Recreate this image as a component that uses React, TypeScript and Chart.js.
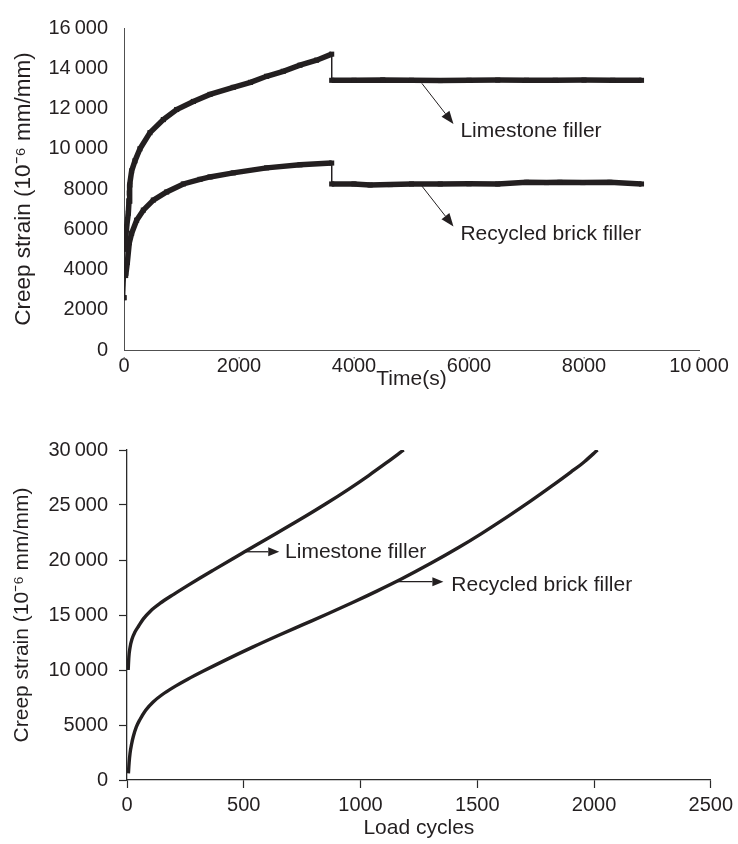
import React, { useEffect, useRef } from 'react';
import { Chart, registerables } from 'chart.js';

Chart.register(...registerables);

const INK = '#231f20';
const AXIS_TOP = '#505050';
const AXIS_BOTTOM = '#2a2a2a';
const FONT = "'Liberation Sans', Arial, Helvetica, sans-serif";

// ---------- Top panel: creep strain vs time ----------
const limeTime = [0, 15, 45, 75, 87, 92, 104, 133, 191, 278, 452, 684, 916, 1206, 1496, 1900, 2200, 2480, 2770, 3060, 3350, 3612, 3612, 4000, 4500, 5000, 5500, 6000, 6500, 7000, 7500, 8000, 8500, 9000];
const limeStrain = [2600, 5000, 6100, 6800, 7400, 7800, 8200, 8900, 9400, 10000, 10800, 11450, 11950, 12350, 12700, 13050, 13300, 13600, 13850, 14150, 14400, 14700, 13400, 13400, 13420, 13400, 13390, 13400, 13410, 13400, 13400, 13410, 13400, 13400];

const brickTime = [0, 29, 58, 92, 133, 220, 336, 510, 742, 1032, 1322, 1496, 1900, 2480, 3060, 3612, 3612, 4000, 4280, 4630, 5000, 5500, 6000, 6500, 7000, 7350, 7580, 7980, 8450, 9000];
const brickStrain = [2600, 3700, 4350, 5330, 5800, 6450, 6950, 7450, 7850, 8250, 8480, 8600, 8800, 9050, 9200, 9290, 8250, 8250, 8200, 8220, 8250, 8250, 8260, 8250, 8330, 8320, 8330, 8320, 8330, 8250];

const topXTickLabels = ['0', '2000', '4000', '6000', '8000', '10\u2009000'];
const topYTickLabels = ['0', '2000', '4000', '6000', '8000', '10\u2009000', '12\u2009000', '14\u2009000', '16\u2009000'];

const topNoteLabels = ['Limestone filler', 'Recycled brick filler'];
const topNoteFromT = [5180, 5180];
const topNoteFromS = [13250, 8150];
const topNoteToT = [5730, 5730];
const topNoteToS = [11230, 6140];
const topNoteTextT = [5850, 5850];
const topNoteTextS = [10860, 5770];

// ---------- Bottom panel: creep strain vs load cycles ----------
const limeCycles = [5, 8, 13, 22, 34, 50, 70, 100, 141, 200, 254, 311, 368, 453, 500, 600, 737, 850, 950, 1035, 1110, 1185];
const limeCreep = [10000, 11200, 12050, 12850, 13450, 14000, 14650, 15350, 16050, 16880, 17600, 18340, 19060, 20120, 20700, 21930, 23630, 25090, 26450, 27680, 28820, 30000];

const brickCycles = [6, 9, 13, 20, 27, 40, 55, 80, 112, 150, 197, 260, 325, 430, 538, 650, 751, 860, 964, 1070, 1177, 1305, 1420, 1518, 1630, 1731, 1820, 1902, 1960, 2015];
const brickCreep = [600, 1550, 2420, 3300, 3950, 4820, 5480, 6350, 7100, 7750, 8400, 9160, 9880, 10990, 12080, 13160, 14100, 15110, 16110, 17170, 18290, 19740, 21130, 22400, 23940, 25390, 26730, 28010, 28960, 30000];

const bottomXTickLabels = ['0', '500', '1000', '1500', '2000', '2500'];
const bottomYTickLabels = ['0', '5000', '10\u2009000', '15\u2009000', '20\u2009000', '25\u2009000', '30\u2009000'];

const bottomNoteLabels = ['Limestone filler', 'Recycled brick filler'];
const bottomNoteFromC = [503, 1142];
const bottomNoteFromS = [20750, 18030];
const bottomNoteToC = [652, 1355];
const bottomNoteTextC = [677, 1389];
const bottomNoteTextS = [20750, 17730];

type Note = { label: string; fx: number; fy: number; tx: number; ty: number; lx: number; ly: number; lw: number; head: number; hw: number };

function notesPlugin(notes: Note[], dots: boolean) {
  return {
    id: 'notes',
    afterDatasetsDraw(chart: any) {
      const { ctx, scales } = chart;
      const xs = scales.x;
      const ys = scales.y;
      ctx.save();
      if (dots) {
        ctx.fillStyle = '#8a8a8a';
        xs.ticks.forEach((t: any) => {
          const px = xs.getPixelForValue(t.value);
          ctx.fillRect(Math.round(px) - 0.5, ys.bottom + 7, 1.5, 1.5);
        });
      }
      notes.forEach((n) => {
        const x0 = xs.getPixelForValue(n.fx);
        const y0 = ys.getPixelForValue(n.fy);
        const x1 = xs.getPixelForValue(n.tx);
        const y1 = ys.getPixelForValue(n.ty);
        const ang = Math.atan2(y1 - y0, x1 - x0);
        const bx = x1 - n.head * Math.cos(ang);
        const by = y1 - n.head * Math.sin(ang);
        ctx.strokeStyle = INK;
        ctx.lineWidth = n.lw;
        ctx.beginPath();
        ctx.moveTo(x0, y0);
        ctx.lineTo(bx, by);
        ctx.stroke();
        ctx.fillStyle = INK;
        ctx.beginPath();
        ctx.moveTo(x1, y1);
        ctx.lineTo(bx + (n.hw / 2) * Math.sin(ang), by - (n.hw / 2) * Math.cos(ang));
        ctx.lineTo(bx - (n.hw / 2) * Math.sin(ang), by + (n.hw / 2) * Math.cos(ang));
        ctx.closePath();
        ctx.fill();
        ctx.font = `21px ${FONT}`;
        ctx.textAlign = 'left';
        ctx.textBaseline = 'middle';
        ctx.fillText(n.label, xs.getPixelForValue(n.lx), ys.getPixelForValue(n.ly));
      });
      ctx.restore();
    },
  };
}

const tickFont = { family: FONT, size: 20 };
const titleFont = { family: FONT, size: 21 };

export default function App() {
  const topRef = useRef<HTMLCanvasElement>(null);
  const botRef = useRef<HTMLCanvasElement>(null);

  useEffect(() => {
    const topNotes: Note[] = topNoteLabels.map((label, i) => ({
      label, fx: topNoteFromT[i], fy: topNoteFromS[i], tx: topNoteToT[i], ty: topNoteToS[i],
      lx: topNoteTextT[i], ly: topNoteTextS[i], lw: 1, head: 13, hw: 10,
    }));
    const botNotes: Note[] = bottomNoteLabels.map((label, i) => ({
      label, fx: bottomNoteFromC[i], fy: bottomNoteFromS[i], tx: bottomNoteToC[i], ty: bottomNoteFromS[i],
      lx: bottomNoteTextC[i], ly: bottomNoteTextS[i], lw: 1.3, head: 11, hw: 9,
    }));

    const segWidth = (c: any) => {
      if (c.p0.parsed.x === c.p1.parsed.x) return 1;
      if (c.p0.parsed.x === 0) return 1.2;
      return undefined;
    };

    const topDs = (t: number[], s: number[], label: string) => ({
      label,
      data: t.map((v, i) => ({ x: v, y: s[i] })),
      borderColor: INK,
      backgroundColor: INK,
      borderWidth: 5.5,
      pointStyle: 'rect',
      pointRadius: 3.6,
      pointBorderWidth: 0,
      tension: 0,
      segment: { borderWidth: segWidth },
    });

    const top = new Chart(topRef.current!, {
      type: 'line',
      data: {
        datasets: [
          topDs(limeTime, limeStrain, 'Limestone filler'),
          topDs(brickTime, brickStrain, 'Recycled brick filler'),
        ] as any,
      },
      options: {
        animation: false,
        responsive: false,
        events: [],
        layout: { padding: { left: 0, top: 20, right: 39, bottom: 0 } },
        plugins: { legend: { display: false }, tooltip: { enabled: false } },
        scales: {
          x: {
            type: 'linear', min: 0, max: 10000,
            ticks: { stepSize: 2000, autoSkip: false, maxRotation: 0, padding: 4, color: INK, font: tickFont,
              callback: (_v: any, i: number) => topXTickLabels[i] },
            grid: { display: true, drawOnChartArea: false, drawTicks: false },
            border: { display: true, color: AXIS_TOP, width: 1 },
            title: { display: true, text: 'Time(s)', color: INK, font: titleFont, padding: { top: 0, bottom: 8 } },
            afterFit: (s: any) => { s.height = 50; },
          },
          y: {
            type: 'linear', min: 0, max: 16000,
            ticks: { stepSize: 2000, autoSkip: false, padding: 16, color: INK, font: tickFont,
              callback: (_v: any, i: number) => topYTickLabels[i] },
            grid: { display: true, drawOnChartArea: false, drawTicks: false },
            border: { display: true, color: AXIS_TOP, width: 1 },
            title: { display: true, text: 'Creep strain (10\u207B\u2076 mm/mm)', color: INK, font: { family: FONT, size: 22.5 }, padding: { top: 10, bottom: 0 } },
            afterFit: (s: any) => { s.width = 124; },
          },
        },
      } as any,
      plugins: [notesPlugin(topNotes, true)],
    });

    const botDs = (c: number[], s: number[], label: string) => ({
      label,
      data: c.map((v, i) => ({ x: v, y: s[i] })),
      borderColor: INK,
      borderWidth: 3.4,
      pointRadius: 0,
      cubicInterpolationMode: 'monotone',
    });

    const bot = new Chart(botRef.current!, {
      type: 'line',
      data: {
        datasets: [
          botDs(limeCycles, limeCreep, 'Limestone filler'),
          botDs(brickCycles, brickCreep, 'Recycled brick filler'),
        ] as any,
      },
      options: {
        animation: false,
        responsive: false,
        events: [],
        layout: { padding: { left: 0, top: 50, right: 25, bottom: 0 } },
        plugins: { legend: { display: false }, tooltip: { enabled: false } },
        scales: {
          x: {
            type: 'linear', min: 0, max: 2500,
            ticks: { stepSize: 500, autoSkip: false, maxRotation: 0, padding: 5, color: INK, font: tickFont,
              callback: (_v: any, i: number) => bottomXTickLabels[i] },
            grid: { display: true, drawOnChartArea: false, drawTicks: true, tickLength: 8, color: AXIS_BOTTOM, tickWidth: 1.2 },
            border: { display: true, color: AXIS_BOTTOM, width: 1.3 },
            title: { display: true, text: 'Load cycles', color: INK, font: titleFont, padding: { top: 0, bottom: 3 } },
            afterFit: (s: any) => { s.height = 64; },
          },
          y: {
            type: 'linear', min: 0, max: 30000,
            ticks: { stepSize: 5000, autoSkip: false, padding: 11, color: INK, font: tickFont,
              callback: (_v: any, i: number) => bottomYTickLabels[i] },
            grid: { display: true, drawOnChartArea: false, drawTicks: true, tickLength: 8, color: AXIS_BOTTOM, tickWidth: 1.2 },
            border: { display: true, color: AXIS_BOTTOM, width: 1.3 },
            title: { display: true, text: 'Creep strain (10\u207B\u2076 mm/mm)', color: INK, font: titleFont, padding: { top: 10, bottom: 0 } },
            afterFit: (s: any) => { s.width = 127; },
          },
        },
      } as any,
      plugins: [notesPlugin(botNotes, false)],
    });

    return () => {
      top.destroy();
      bot.destroy();
    };
  }, []);

  return (
    <div style={{ position: 'absolute', left: 0, top: 0, width: 738, height: 844, background: '#fff' }}>
      <canvas ref={topRef} width={738} height={400} style={{ display: 'block', width: 738, height: 400 }} />
      <canvas ref={botRef} width={738} height={444} style={{ display: 'block', width: 738, height: 444 }} />
    </div>
  );
}
